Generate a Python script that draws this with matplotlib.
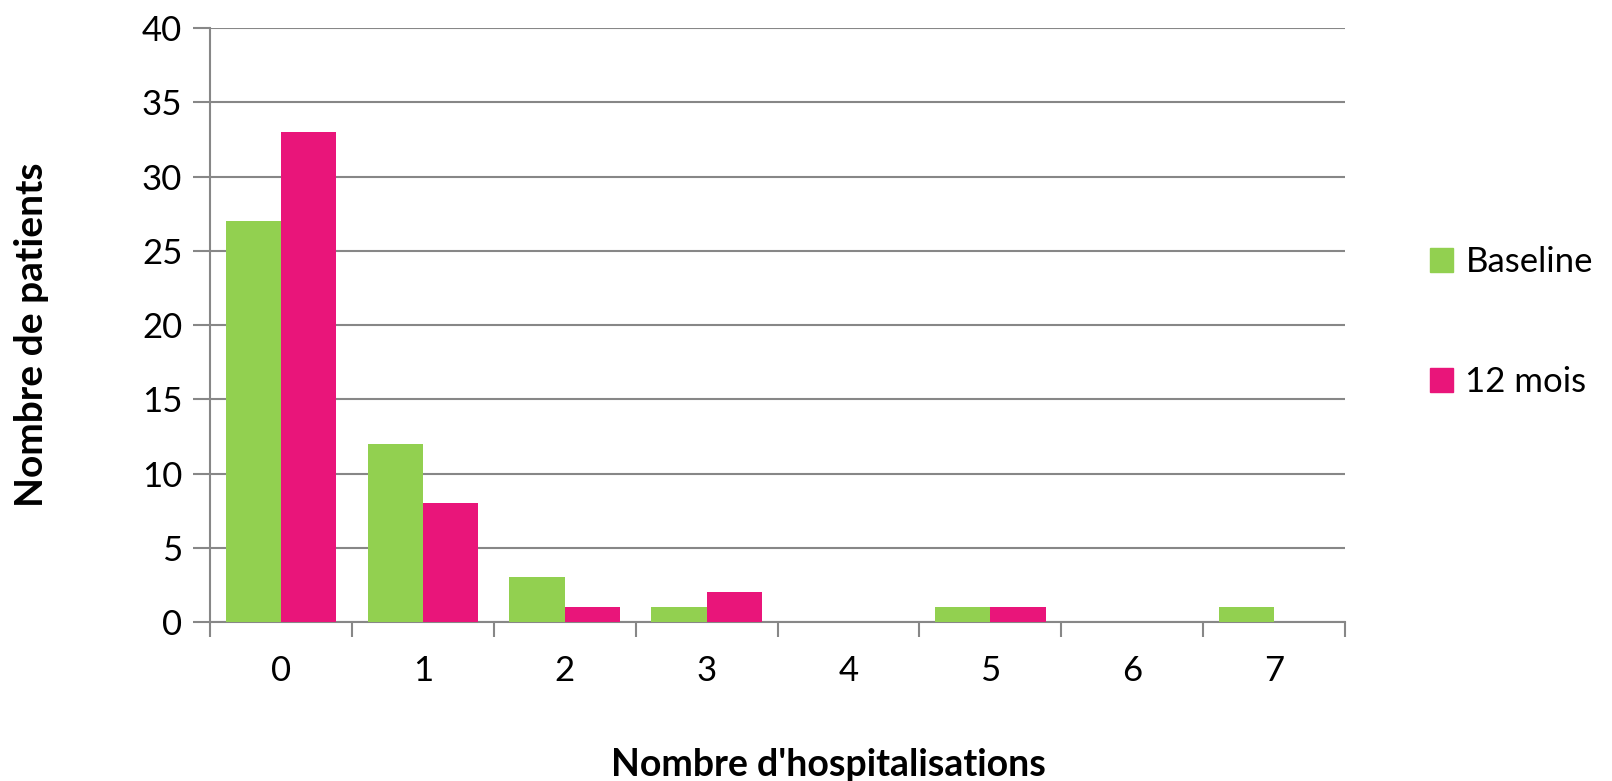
import numpy as np
import matplotlib.pyplot as plt
from matplotlib.patches import Patch

plt.rcParams['font.family'] = ['Lato', 'DejaVu Sans']

categories = ['0', '1', '2', '3', '4', '5', '6', '7']
baseline = [27, 12, 3, 1, 0, 1, 0, 1]
mois12 = [33, 8, 1, 2, 0, 1, 0, 0]

green = '#92D050'
pink = '#E9157A'
grey = '#878787'

fig = plt.figure(figsize=(16.12, 7.81), dpi=100)
ax = fig.add_axes([0.1303, 0.2036, 0.7041, 0.7605])

x = np.arange(len(categories))
w = 0.39
ax.bar(x - w / 2, baseline, w, color=green, zorder=3)
ax.bar(x + w / 2, mois12, w, color=pink, zorder=3)

ax.set_xlim(-0.5, len(categories) - 0.5)
ax.set_ylim(0, 40)
ax.set_yticks(np.arange(0, 41, 5))
ax.yaxis.grid(True, color=grey, linewidth=1.5, zorder=0)

ax.set_xticks(x)
ax.set_xticklabels(categories)
ax.set_xticks(np.arange(-0.5, len(categories)), minor=True)
ax.tick_params(axis='x', which='major', length=0, pad=24, labelsize=25)
ax.tick_params(axis='x', which='minor', length=11, width=1.5, color=grey)
ax.tick_params(axis='y', length=12, width=1.5, color=grey, labelsize=25, pad=8)

for s in ['top', 'right']:
    ax.spines[s].set_visible(False)
for s in ['left', 'bottom']:
    ax.spines[s].set_color(grey)
    ax.spines[s].set_linewidth(1.5)

ax.set_xlabel("Nombre d'hospitalisations", fontsize=27, fontweight='bold')
ax.xaxis.set_label_coords(0.545, -0.212)
ax.set_ylabel("Nombre de patients", fontsize=28, fontweight='bold')
ax.yaxis.set_label_coords(-0.142, 0.483)

handles = [Patch(color=green, label='Baseline'), Patch(color=pink, label='12 mois')]
ax.legend(handles=handles, loc='center left', bbox_to_anchor=(1.047, 0.505), frameon=False,
          fontsize=25, handlelength=0.68, handleheight=0.68, handletextpad=0.35, labelspacing=2.55)

fig.savefig('out.png', dpi=100)
